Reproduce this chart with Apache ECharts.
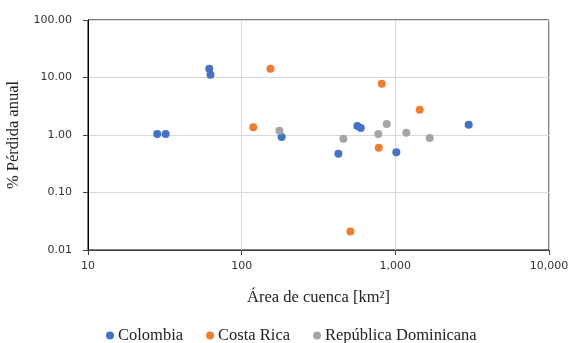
<!DOCTYPE html>
<html><head><meta charset="utf-8">
<script src="https://cdn.jsdelivr.net/npm/echarts@6/dist/echarts.min.js"></script>
<style>html,body{margin:0;padding:0;background:#fff}#c{width:570px;height:343px}</style>
</head><body><div id="c"></div>
<script>
const seriesNames = ['Colombia', 'Costa Rica', 'República Dominicana'];
const colombiaX = [28.2, 32, 61.5, 62.7, 182, 566, 596, 426, 1015, 3000];
const colombiaY = [1.04, 1.04, 14.2, 11.2, 0.92, 1.44, 1.32, 0.47, 0.50, 1.50];
const costaRicaX = [154, 119, 816, 1441, 780, 510];
const costaRicaY = [14.2, 1.37, 7.8, 2.74, 0.60, 0.021];
const rdX = [176, 459, 775, 879, 1179, 1674];
const rdY = [1.18, 0.86, 1.04, 1.56, 1.09, 0.89];
const colors = ['#4472C4', '#ED7D31', '#A5A5A5'];

function pts(xs, ys) { return xs.map((x, i) => [x, ys[i]]); }
const data = [pts(colombiaX, colombiaY), pts(costaRicaX, costaRicaY), pts(rdX, rdY)];

const chart = echarts.init(document.getElementById('c'));
const serif = '"Liberation Serif", "Times New Roman", serif';
const sans = '"DejaVu Sans", Verdana, sans-serif';
chart.setOption({
  animation: false,
  color: colors,
  grid: { left: 88, right: 21, top: 20, bottom: 93, show: true, borderColor: '#000', borderWidth: 1,
          containLabel: false, outerBoundsMode: 'none' },
  xAxis: {
    type: 'log', logBase: 10, min: 10, max: 10000,
    name: 'Área de cuenca [km²]', nameLocation: 'middle', nameGap: 39,
    nameTextStyle: { fontFamily: serif, fontSize: 16.5, color: '#222' },
    axisLine: { lineStyle: { color: '#404040' } },
    axisTick: { show: true, length: 5, lineStyle: { color: '#404040' } },
    axisLabel: { fontFamily: sans, fontSize: 11, color: '#333', margin: 11,
      formatter: v => Math.round(v).toLocaleString('en-US') },
    splitLine: { show: true, lineStyle: { color: '#d9d9d9' } },
    minorTick: { show: false }
  },
  yAxis: {
    type: 'log', logBase: 10, min: 0.01, max: 100,
    name: '% Pérdida anual', nameLocation: 'middle', nameGap: 61,
    nameTextStyle: { fontFamily: serif, fontSize: 16.5, color: '#222' },
    axisLine: { lineStyle: { color: '#000' } },
    axisTick: { show: true, length: 5, lineStyle: { color: '#404040' } },
    axisLabel: { fontFamily: sans, fontSize: 11, color: '#333', margin: 16,
      formatter: v => Number(v).toFixed(2) },
    splitLine: { show: true, lineStyle: { color: '#d9d9d9' } }
  },
  legend: {
    bottom: -6, left: 101, itemWidth: 8, itemHeight: 8, itemGap: 23,
    icon: 'circle',
    textStyle: { fontFamily: serif, fontSize: 16.5, color: '#222', padding: [0, 0, 0, -1] },
    data: seriesNames
  },
  series: seriesNames.map((n, i) => ({
    name: n, type: 'scatter', symbol: 'circle', symbolSize: 8,
    data: data[i], itemStyle: { color: colors[i], opacity: 1 }
  }))
});
</script></body></html>
